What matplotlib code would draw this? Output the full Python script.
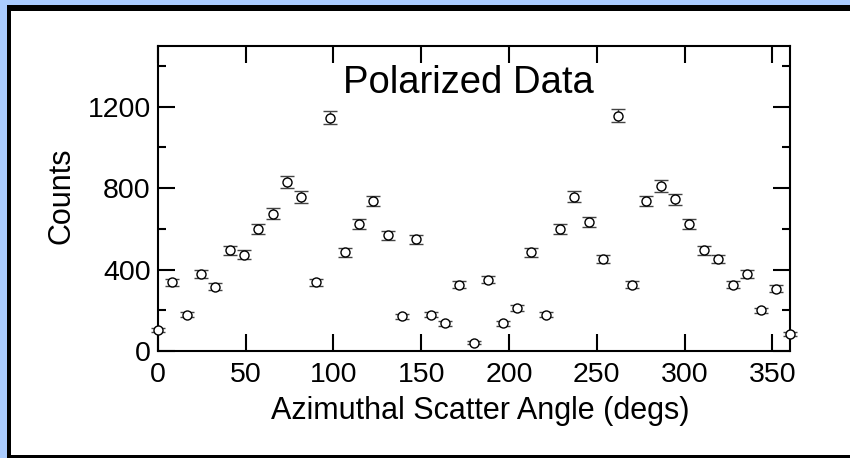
import matplotlib
matplotlib.use('Agg')
import matplotlib.pyplot as plt
from matplotlib.patches import Rectangle
from matplotlib.ticker import MultipleLocator

plt.rcParams['font.family'] = ['Liberation Sans', 'DejaVu Sans']

# scatter angle (degs), counts and error on counts
angles = [0, 8.2, 16.4, 24.5, 32.7, 40.9, 49.1, 57.3, 65.5, 73.6, 81.8, 90,
          98.2, 106.4, 114.5, 122.7, 130.9, 139.1, 147.3, 155.5, 163.6, 171.8,
          180, 188.2, 196.4, 204.5, 212.7, 220.9, 229.1, 237.3, 245.5, 253.6,
          261.8, 270, 278.2, 286.4, 294.5, 302.7, 310.9, 319.1, 327.3, 335.5,
          343.6, 351.8, 360]
counts = [104, 337, 178, 379, 316, 495, 474, 601, 675, 831, 757, 337,
          1147, 485, 622, 737, 568, 170, 548, 178, 137, 326,
          41, 351, 137, 211, 485, 178, 601, 759, 634, 453,
          1157, 326, 737, 811, 746, 622, 495, 453, 326, 379,
          199, 306, 84]
errors = [10, 18, 13, 19, 18, 22, 22, 25, 26, 29, 28, 18,
          34, 22, 25, 27, 24, 13, 23, 13, 12, 18,
          6, 19, 12, 15, 22, 13, 25, 28, 25, 21,
          34, 18, 27, 28, 27, 25, 22, 21, 18, 19,
          14, 17, 9]

W, H = 850, 458
fig = plt.figure(figsize=(W / 100, H / 100), dpi=100)
fig.patch.set_facecolor('#aaccff')

# black framed white panel (cut off at right / bottom)
fig.patches.append(Rectangle((7 / W, -0.1), 1.2, 1.1 - 5 / H, transform=fig.transFigure,
                             facecolor='black', edgecolor='none', zorder=-2))
fig.patches.append(Rectangle((11 / W, 3 / H), 1.2, 1 - 14 / H, transform=fig.transFigure,
                             facecolor='white', edgecolor='none', zorder=-1))

ax = fig.add_axes([157.7 / W, 1 - 351 / H, 632.3 / W, 305.3 / H])
ax.set_facecolor('white')

ax.errorbar(angles, counts, yerr=errors, fmt='o', ms=6.5, mfc='white', mec='black',
            mew=1.0, ecolor='#444444', elinewidth=1.0, capsize=4.7, capthick=1.0,
            clip_on=False, zorder=3)

ax.set_xlim(0, 360)
ax.set_ylim(0, 1500)
ax.xaxis.set_major_locator(MultipleLocator(50))
ax.yaxis.set_major_locator(MultipleLocator(400))
ax.yaxis.set_minor_locator(MultipleLocator(200))
ax.set_xticks([0, 50, 100, 150, 200, 250, 300, 350])

ax.tick_params(axis='both', which='major', direction='in', length=12, width=1.5,
               top=True, right=True, labelsize=20.5, pad=5)
ax.tick_params(axis='x', which='major', pad=8)
ax.tick_params(axis='y', which='minor', direction='in', length=6, width=1.5,
               left=True, right=True)
for s in ax.spines.values():
    s.set_linewidth(1.5)

ax.set_xlabel('Azimuthal Scatter Angle (degs)', fontsize=22)
ax.set_ylabel('Counts', fontsize=22)
ax.xaxis.set_label_coords(0.51, -0.197)
ax.xaxis.label.set_va('center')
ax.yaxis.set_label_coords(-0.152, 0.51)
ax.yaxis.label.set_va('center')

ax.text(177, 1315, 'Polarized Data', fontsize=27.5, ha='center', va='center')

fig.savefig('out.png', dpi=100, facecolor=fig.get_facecolor())
